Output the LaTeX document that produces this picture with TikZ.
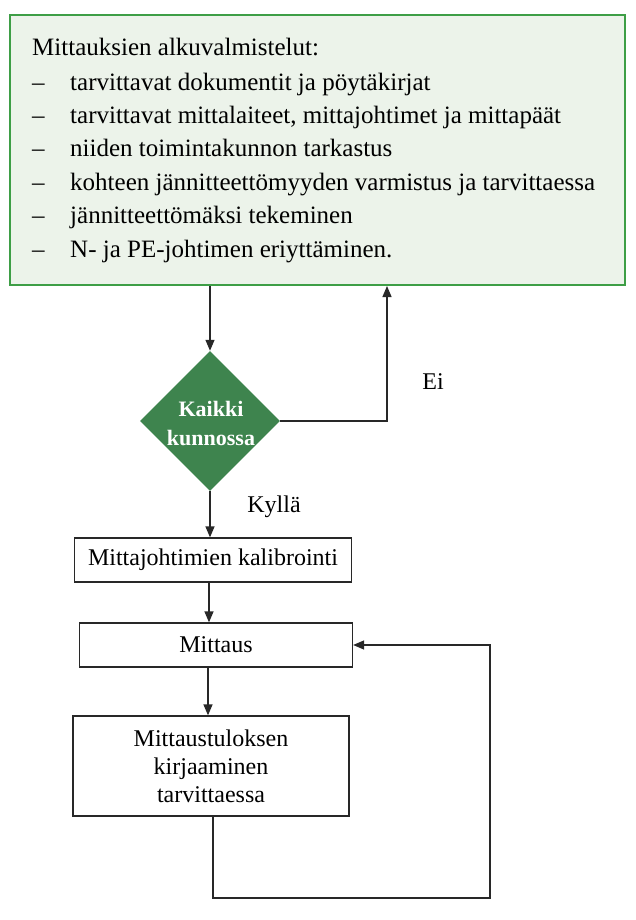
\documentclass[tikz,border=0pt]{standalone}
\usepackage{fontspec}
\setmainfont{Liberation Serif}
\usetikzlibrary{arrows.meta,shapes.geometric,calc}
\definecolor{boxgreen}{RGB}{62,158,70}
\definecolor{boxfill}{RGB}{236,243,234}
\definecolor{diafill}{RGB}{62,132,78}
\definecolor{linec}{RGB}{40,40,40}
\begin{document}
\begin{tikzpicture}[x=1pt,y=-1pt,
  toptxt/.style={anchor=base west, inner sep=0pt, font=\fontsize{25}{33}\selectfont},
  procbox/.style={draw=linec, line width=1.3pt, fill=white, inner sep=0pt, align=center, font=\fontsize{24}{28}\selectfont},
  arr/.style={draw=linec, line width=1.3pt, -{Triangle[length=11pt,width=9pt]}},
  lbl/.style={inner sep=0pt, font=\fontsize{24}{28}\selectfont}]
\useasboundingbox (0,0) rectangle (635,920);
\fill[white] (0,0) rectangle (635,920);
% top box
\node[draw=boxgreen, line width=2pt, fill=boxfill, minimum width=615pt, minimum height=270pt, inner sep=0pt] (prep) at (317.5,150) {};
\node[toptxt] (t0) at (32,56) {Mittauksien alkuvalmistelut:};
\node[toptxt] (d1) at (32,91) {–};
\node[toptxt] (t1) at (70,91) {tarvittavat dokumentit ja pöytäkirjat};
\node[toptxt] (d2) at (32,124) {–};
\node[toptxt] (t2) at (70,124) {tarvittavat mittalaiteet, mittajohtimet ja mittapäät};
\node[toptxt] (d3) at (32,157) {–};
\node[toptxt] (t3) at (70,157) {niiden toimintakunnon tarkastus};
\node[toptxt] (d4) at (32,190) {–};
\node[toptxt] (t4) at (70,190) {kohteen jännitteettömyyden varmistus ja tarvittaessa};
\node[toptxt] (d5) at (32,223) {–};
\node[toptxt] (t5) at (70,223) {jännitteettömäksi tekeminen};
\node[toptxt] (d6) at (32,257) {–};
\node[toptxt] (t6) at (70,257) {N- ja PE-johtimen eriyttäminen.};
% decision
\node[diamond, aspect=1, fill=diafill, minimum width=140pt, minimum height=140pt, inner sep=0pt] (dec) at (210,421) {};
\node[text=white, align=center, inner sep=0pt, font=\fontsize{22}{29}\selectfont\bfseries] (dect) at (211,423) {Kaikki\\kunnossa};
% process boxes
\node[procbox, minimum width=277pt, minimum height=44pt] (b1) at (213,560) {Mittajohtimien kalibrointi};
\node[procbox, minimum width=273pt, minimum height=44pt] (b2) at (216,645) {Mittaus};
\node[procbox, minimum width=276pt, minimum height=100pt] (b3) at (211,766) {Mittaustuloksen\\kirjaaminen\\tarvittaessa};
% labels
\node[lbl] (ei) at (433,382) {Ei};
\node[lbl] (kylla) at (274,507) {Kyllä};
% connectors
\coordinate (eiTurn) at (387,421);
\coordinate (loopCorner) at (490,898);
\draw[arr] (prep.south -| dec.north) -- (dec.north);
\draw[arr] (dec.east) -- (eiTurn) -- (eiTurn |- prep.south);
\draw[arr] (dec.south) -- (dec.south |- b1.north);
\draw[arr] ([xshift=-4pt]b1.south) -- ([xshift=-4pt]b1.south |- b2.north);
\draw[arr] ([xshift=-8pt]b2.south) -- ([xshift=-8pt]b2.south |- b3.north);
\draw[arr] ([xshift=2pt]b3.south) -- ([xshift=2pt]b3.south |- loopCorner) -- (loopCorner) -- (loopCorner |- b2.east) -- (b2.east);
\end{tikzpicture}
\end{document}
